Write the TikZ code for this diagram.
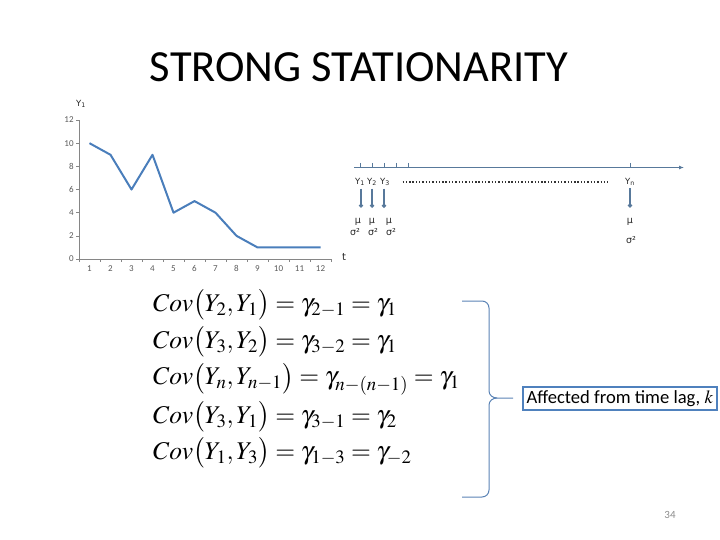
\documentclass[tikz,border=0pt]{standalone}
\usepackage{mathptmx}
\usepackage[no-math]{fontspec}
\setmainfont{Carlito}
\newfontfamily\smallsans{DejaVu Sans}
\usetikzlibrary{arrows.meta,positioning}

\definecolor{seriesblue}{HTML}{4A7EBB}
\definecolor{axisgray}{HTML}{868686}
\definecolor{labelgray}{HTML}{595959}
\definecolor{steel}{HTML}{58799B}
\definecolor{boxblue}{HTML}{4F81BD}
\definecolor{braceblue}{HTML}{5A83B5}

\begin{document}
\begin{tikzpicture}[
  x=1pt, y=-1pt,
  >=Latex,
  axis/.style={draw=axisgray, line width=0.6pt},
  ticklbl/.style={font=\fontsize{9}{10}\selectfont, text=labelgray, inner sep=1pt},
  series/.style={draw=seriesblue, line width=2pt, line join=round},
  tlabel/.style={font=\smallsans\fontsize{8.5}{10}\selectfont, inner sep=0.5pt, text=black!85},
  stat/.style={font=\smallsans\fontsize{9.5}{11}\selectfont, inner sep=0.5pt, text=black!85},
  timeline/.style={draw=steel, line width=1.6pt, -{Latex[length=5pt,width=4pt]}},
  drop/.style={draw=steel, line width=1.6pt, -{Circle[length=4pt]}},
  dots/.style={draw=black!80, line width=1.4pt, dash pattern=on 1.4pt off 1.9pt},
  eq/.style={anchor=west, inner sep=0pt, font=\fontsize{25.5}{29}\selectfont},
  lagbox/.style={draw=boxblue, line width=2.2pt, fill=white, inner sep=3.5pt, font=\fontsize{18.6}{20}\selectfont},
  brace/.style={draw=braceblue, line width=1pt}
]
\useasboundingbox (0,0) rectangle (720,540);

\node[font=\fontsize{44.5}{52}\selectfont] (title) at (359,67) {STRONG STATIONARITY};

% chart of Y_1
\node[tlabel] (ylab) at (81,104) {Y\textsubscript{1}};
\begin{scope}[shift={(79,259)}, x=21pt, y=11.58pt]
  \draw[axis] (0,0) -- (0,12);
  \foreach \v in {0,2,...,12} {
    \draw[axis] (-0.14,\v) -- (0,\v);
    \node[ticklbl, anchor=east] at (-0.2,\v) {\v};
  }
  \draw[axis] (0,0) -- (12,0);
  \foreach \i in {0,...,12}
    \draw[axis] (\i,0) -- (\i,-0.3);
  \foreach \i in {1,...,12}
    \node[ticklbl, anchor=north] at (\i-0.5,-0.45) {\i};
  \draw[series] (0.5,10) -- (1.5,9) -- (2.5,6) -- (3.5,9) -- (4.5,4) -- (5.5,5)
    -- (6.5,4) -- (7.5,2) -- (8.5,1) -- (9.5,1) -- (10.5,1) -- (11.5,1);
\end{scope}
\node[tlabel, font=\smallsans\fontsize{10}{12}\selectfont] (t) at (344,257) {t};

% time line
\coordinate (tl-start) at (354,167.5);
\coordinate (tl-end) at (684,167.5);
\draw[timeline] (tl-start) -- (tl-end);
\foreach \x in {360.7,372.7,384.3,396.7,408.3,630}
  \draw[draw=steel, line width=0.8pt] (\x,163) -- (\x,167.5);

\node[tlabel] (y1) at (360,182) {Y\textsubscript{1}};
\node[tlabel] (y2) at (372,182) {Y\textsubscript{2}};
\node[tlabel] (y3) at (385,182) {Y\textsubscript{3}};
\node[tlabel] (yn) at (630,182) {Y\textsubscript{n}};
\draw[dots] (y3.east) -- (yn.west) [shorten <=12pt, shorten >=17pt];

\node[stat] (m1) at (358,222) {μ};
\node[stat] (m2) at (372,222) {μ};
\node[stat] (m3) at (389,222) {μ};
\node[stat] (mn) at (630,222) {μ};
\node[stat] (s1) at (355,232) {σ²};
\node[stat] (s2) at (373,232) {σ²};
\node[stat] (s3) at (391,232) {σ²};
\node[stat] (sn) at (631,240) {σ²};

\draw[drop] (y1.south) ++(1,2) -- ++(0,19);
\draw[drop] (y2.south) ++(0,2) -- ++(0,19);
\draw[drop] (y3.south) ++(-1,2) -- ++(0,19);
\draw[drop] (yn.south) ++(0,2) -- ++(0,19);

% covariances
\node[eq] (eq1) at (153,305) {$Cov\bigl(Y_2,Y_1\bigr)=\gamma_{2-1}=\gamma_1$};
\node[eq] (eq2) at (153,342) {$Cov\bigl(Y_3,Y_2\bigr)=\gamma_{3-2}=\gamma_1$};
\node[eq] (eq3) at (153,379) {$Cov\bigl(Y_n,Y_{n-1}\bigr)=\gamma_{n-(n-1)}=\gamma_1$};
\node[eq] (eq4) at (153,417) {$Cov\bigl(Y_3,Y_1\bigr)=\gamma_{3-1}=\gamma_2$};
\node[eq] (eq5) at (153,453) {$Cov\bigl(Y_1,Y_3\bigr)=\gamma_{1-3}=\gamma_{-2}$};

\coordinate (tip) at (513,398);
\draw[brace] (462,301) -- (482,301) to[out=0,in=90] (489,308) -- (489,391)
  to[out=-90,in=180] (497,398) -- (tip);
\draw[brace] (462,497) -- (482,497) to[out=0,in=-90] (489,490) -- (489,405)
  to[out=90,in=180] (497,398);

\node[lagbox, anchor=west] (lag) at (522,398.5) {Affected from time lag, $k$};

\node[font=\fontsize{11}{13}\selectfont, text=black!45] (page) at (670,515) {34};
\end{tikzpicture}
\end{document}
